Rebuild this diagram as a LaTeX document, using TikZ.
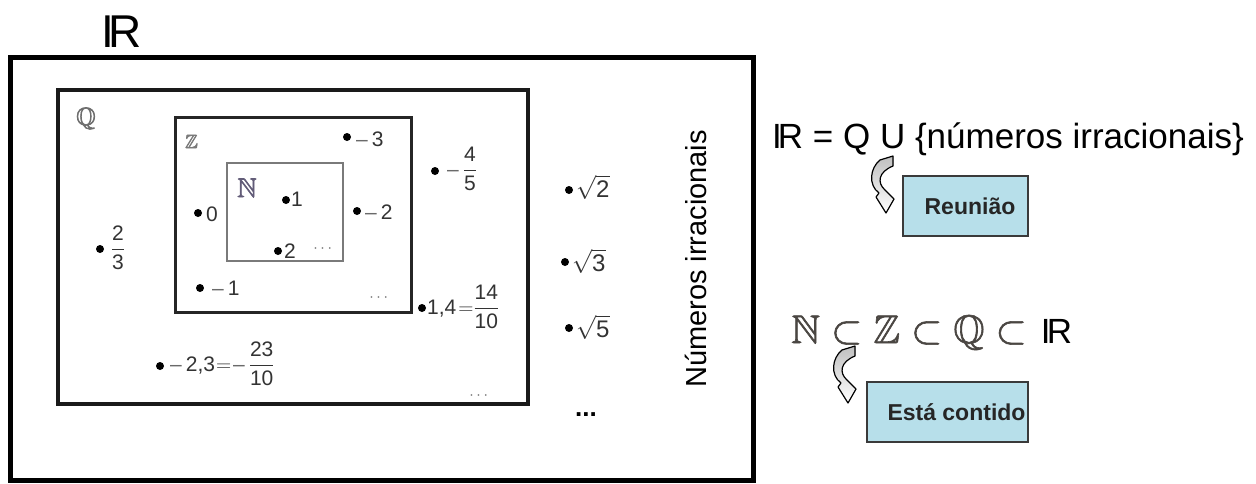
\RequirePackage{fix-cm}
\documentclass[tikz,border=0pt]{standalone}
\usepackage{amsmath,amssymb}
\usepackage{fontspec}
\setmainfont{Liberation Sans}
\definecolor{dgray}{HTML}{333333}
\definecolor{mgray}{HTML}{6A6A6A}
\definecolor{lgray}{HTML}{6E6E6E}
\definecolor{zgray}{HTML}{7A7A7A}
\definecolor{ngray}{HTML}{625C78}
\definecolor{bbgray}{HTML}{4A4642}
\definecolor{qline}{HTML}{1A1A1A}
\definecolor{zline}{HTML}{262626}
\definecolor{nline}{HTML}{7A7A7A}
\definecolor{boxblue}{HTML}{B7DFEA}
\definecolor{boxline}{HTML}{3A3A3A}
\newcommand\myfs[1]{\fontsize{#1}{#1}\selectfont}
\newcommand\mns{{\color{mgray}–}\kern4pt}
\newcommand\heavy[1]{\special{pdf:literal direct 2 Tr 0.6 w}#1\special{pdf:literal direct 0 Tr}}
\tikzset{
  lbl/.style={inner sep=0pt, anchor=base west, text=dgray, font=\myfs{21}},
  bblab/.style={inner sep=0pt, anchor=base west},
  pdot/.style={fill=black},
  dots/.style={inner sep=0pt, anchor=base, text=mgray, font=\myfs{16}},
  notebox/.style={draw=boxline, fill=boxblue, line width=1.8pt, inner sep=1pt, font=\bfseries\myfs{23}, text=black!85},
  curvarr/.pic={
    \filldraw[draw=black, line width=1.2pt, top color=gray!50, bottom color=white, line join=round]
      (0,0) .. controls (-10,8) and (-12,25) .. (-1,33) -- (-4,37) -- (6,53) -- (14,39) -- (5,30)
      .. controls (-3,23) and (-2,12) .. (13,6) -- (13,-4) -- cycle;
  }
}
\begin{document}
\begin{tikzpicture}[x=1pt,y=-1pt]
\useasboundingbox (0,0) rectangle (1256,483);
\fill[white] (0,0) rectangle (1256,483);
% sets
\draw[line width=5pt] (10,57) rectangle (753,480);
\draw[line width=4pt, draw=qline] (57.5,90) rectangle (528,404);
\draw[line width=3pt, draw=zline] (175,117) rectangle (411.5,312);
\draw[line width=1.3pt, draw=nline] (227,163) rectangle (343,261);
% set labels
\node[bblab, font=\myfs{46}] (Rtop) at (101,47) {I\kern-6pt R};
\node[bblab, text=lgray, font=\myfs{25}] (Qlab) at (76,125) {\heavy{$\mathbb{Q}$}};
\node[bblab, text=zgray, font=\myfs{19}] (Zlab) at (185,148) {\heavy{$\mathbb{Z}$}};
\node[bblab, text=ngray, font=\myfs{27}] (Nlab) at (237,197) {\heavy{$\mathbb{N}$}};
% elements
\fill[pdot] (347,137) circle[radius=4pt]; \node[lbl] (pm3) at (356,146) {\mns 3};
\fill[pdot] (286,200) circle[radius=4pt]; \node[lbl] (p1) at (291,206) {1};
\fill[pdot] (198,213) circle[radius=4pt]; \node[lbl] (p0) at (206,221) {0};
\fill[pdot] (357,211) circle[radius=4pt]; \node[lbl] (pm2) at (365,219) {\mns 2};
\fill[pdot] (278,251) circle[radius=4pt]; \node[lbl] (p2) at (284,258) {2};
\fill[pdot] (200,288) circle[radius=4pt]; \node[lbl] (pm1) at (212,295) {\mns 1};
\fill[pdot] (100,249) circle[radius=4pt]; \node[lbl, anchor=base] (pf23) at (118,255) {$\dfrac{\text{2}}{\text{3}}$};
\fill[pdot] (435,171) circle[radius=4pt]; \node[lbl] (pm45) at (447,176) {\mns$\dfrac{\text{4}}{\text{5}}$};
\fill[pdot] (422,308) circle[radius=4pt]; \node[lbl] (p14) at (427,314) {1,4\kern2pt${=}\dfrac{\text{14}}{\text{10}}$};
\fill[pdot] (160,366) circle[radius=4pt]; \node[lbl] (pm23) at (170,371) {\mns 2,3\kern1pt${=}$\kern2pt\mns$\dfrac{\text{23}}{\text{10}}$};
\fill[pdot] (569,190) circle[radius=4pt]; \node[lbl, font=\myfs{24}] (ps2) at (576,197) {$\sqrt{\text{2}}$};
\fill[pdot] (565,262) circle[radius=4pt]; \node[lbl, font=\myfs{24}] (ps3) at (572,271) {$\sqrt{\text{3}}$};
\fill[pdot] (569,328) circle[radius=4pt]; \node[lbl, font=\myfs{24}] (ps5) at (576,337) {$\sqrt{\text{5}}$};
\node[dots] (d1) at (324,252) {$\cdots$};
\node[dots] (d2) at (380,301) {$\cdots$};
\node[dots] (d3) at (480,399) {$\cdots$};
\node[inner sep=0pt, anchor=base, font=\bfseries\myfs{26}] (d4) at (586,416) {...};
\node[rotate=90, inner sep=0pt, font=\myfs{29}] (irr) at (696,259) {Números irracionais};
% right side
\node[bblab, font=\myfs{35}] (req) at (772,148) {I\kern-4pt R = Q U \{números irracionais\}};
\node[notebox, minimum width=125pt, minimum height=60pt] (reu) at (965.5,206) {\hspace*{9pt}Reunião};
\pic at (880,160) {curvarr};
\node[bblab, font=\myfs{40}] (inc) at (791,343) {{\color{bbgray}\heavy{$\mathbb{N}\subset\mathbb{Z}\subset\mathbb{Q}\subset$}}\hspace{14pt}{\myfs{35}I\kern-3.5pt R}};
\node[notebox, minimum width=161pt, minimum height=60pt] (est) at (947.5,412) {\hspace*{18pt}Está contido};
\pic at (842,350) {curvarr};
\end{tikzpicture}
\end{document}
